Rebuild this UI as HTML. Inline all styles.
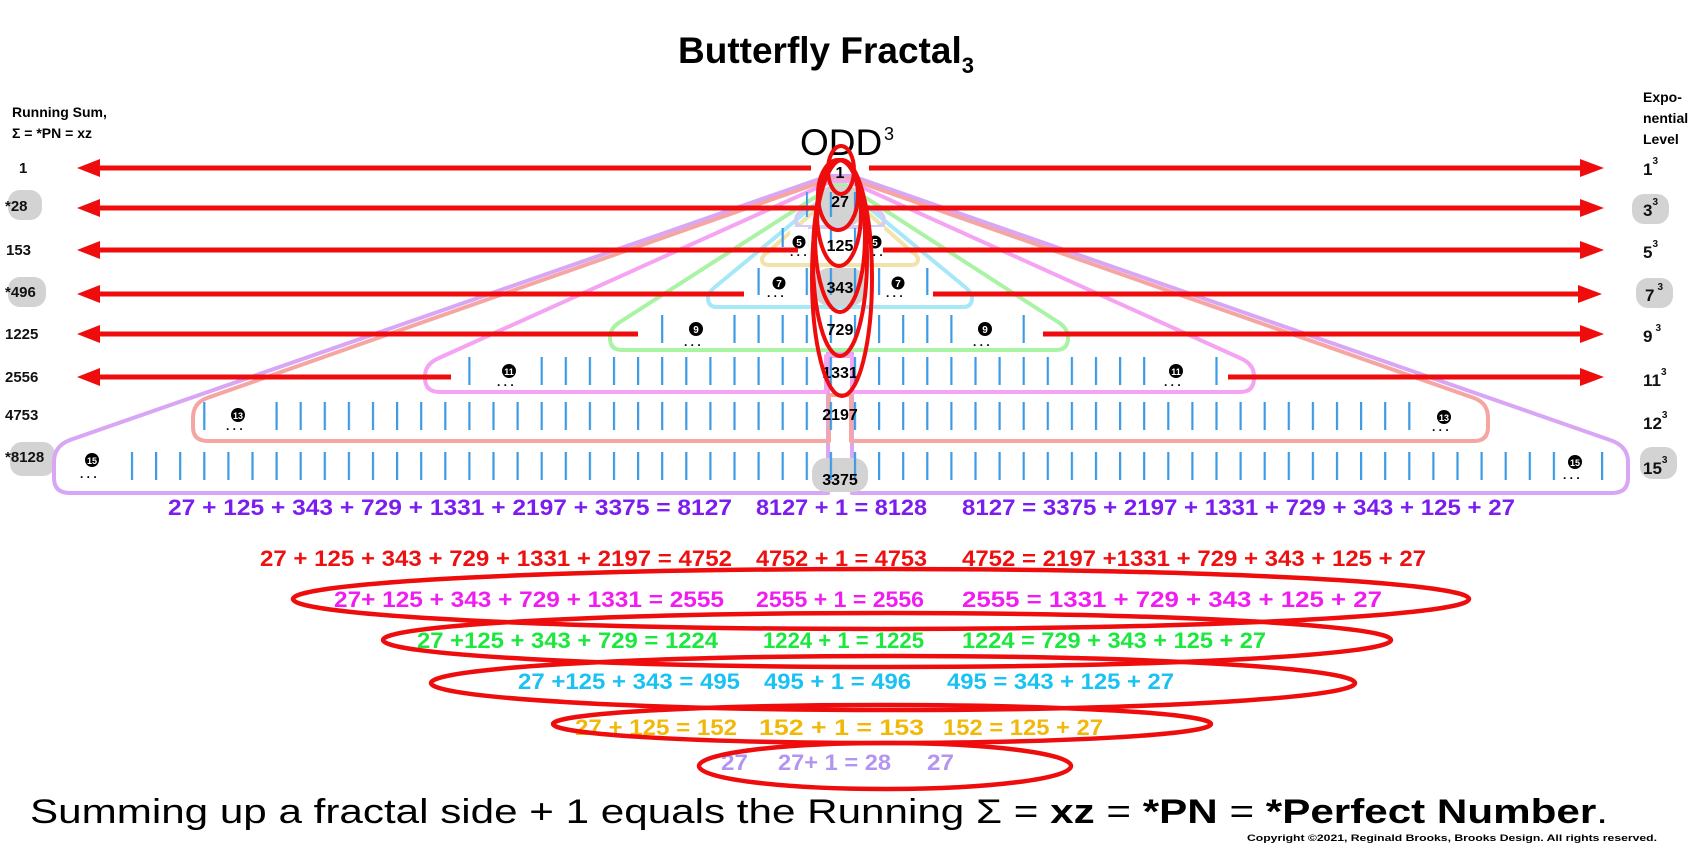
<!DOCTYPE html>
<html><head><meta charset="utf-8"><style>
html,body{margin:0;padding:0;background:#fff}
svg{display:block}
text{font-family:"Liberation Sans",sans-serif}
</style></head><body>
<svg width="1700" height="850" viewBox="0 0 1700 850" xmlns="http://www.w3.org/2000/svg">
<defs>
<pattern id="tk" width="24.1" height="1000" patternUnits="userSpaceOnUse" x="10.4" y="0">
<rect x="0" y="0" width="2.2" height="1000" fill="#3d9be6"/>
</pattern>
</defs>

<text x="678" y="63" font-size="37" font-weight="bold" fill="#000">Butterfly Fractal<tspan font-size="22" dy="10">3</tspan></text>
<text x="800" y="155" font-size="37" fill="#000">ODD</text>
<text x="884" y="140" font-size="18" fill="#000">3</text>

<text x="12" y="117" font-size="14" font-weight="bold">Running Sum,</text>
<text x="12" y="138" font-size="14" font-weight="bold">Σ = *PN = xz</text>
<text x="1643" y="102" font-size="14" font-weight="bold">Expo-</text>
<text x="1643" y="123" font-size="14" font-weight="bold">nential</text>
<text x="1643" y="144" font-size="14" font-weight="bold">Level</text>

<rect x="8" y="190" width="34" height="30" rx="12" fill="#d3d3d3"/>
<rect x="8" y="277" width="38" height="30" rx="12" fill="#d3d3d3"/>
<rect x="10" y="442" width="45" height="34" rx="12" fill="#d3d3d3"/>
<rect x="1632" y="194" width="37" height="30" rx="12" fill="#d3d3d3"/>
<rect x="1636" y="278" width="37" height="30" rx="12" fill="#d3d3d3"/>
<rect x="1640" y="447" width="37" height="32" rx="12" fill="#d3d3d3"/>

<g font-size="15" font-weight="bold" fill="#111">
<text x="19" y="173">1</text>
<text x="5" y="211">*28</text>
<text x="6" y="255">153</text>
<text x="5" y="297">*496</text>
<text x="5" y="339">1225</text>
<text x="5" y="382">2556</text>
<text x="5" y="420">4753</text>
<text x="5" y="462">*8128</text>
</g>
<g font-size="17" font-weight="bold" fill="#111">
<text x="1643" y="175">1<tspan font-size="10" dy="-11">3</tspan></text>
<text x="1643" y="216">3<tspan font-size="10" dy="-11">3</tspan></text>
<text x="1643" y="258">5<tspan font-size="10" dy="-11">3</tspan></text>
<text x="1645" y="301">7<tspan font-size="10" dy="-11" dx="3">3</tspan></text>
<text x="1643" y="342">9<tspan font-size="10" dy="-11" dx="3">3</tspan></text>
<text x="1643" y="386">11<tspan font-size="10" dy="-11">3</tspan></text>
<text x="1643" y="429">12<tspan font-size="10" dy="-11">3</tspan></text>
<text x="1643" y="474">15<tspan font-size="10" dy="-11">3</tspan></text>
</g>

<g fill="none" stroke-width="4" stroke-linejoin="round">
<path stroke="#d8a6f4" d="M828,176 L70,440 Q54,446 54,462 L54,478 Q54,493 70,493 L828,493 L828,353 L852,353 L852,493 L1612,493 Q1628,493 1628,478 L1628,462 Q1628,446 1610,440 L852,176 Z"/>
<path stroke="#f5a6a2" d="M830,179 L207,398 Q193,403 193,418 L193,427 Q193,441 208,441 L829,441 L829,395 L851,395 L851,441 L1474,441 Q1488,441 1488,427 L1488,418 Q1488,403 1474,398 L850,179 Z"/>
<path stroke="#f4a4f2" d="M832,181 L439,358 Q425,364 425,376 L425,378 Q425,392 440,392 L826,392 L826,356 L852,356 L852,392 L1240,392 Q1254,392 1254,378 L1254,376 Q1254,364 1240,358 L848,181 Z"/>
<path stroke="#a8f4a4" d="M834,185 L620,322 Q610,328 610,338 Q610,350 622,350 L1056,350 Q1068,350 1068,338 Q1068,328 1058,322 L846,185 Z"/>
<path stroke="#a6e8f8" d="M835,188 L715,287 Q708,293 708,298 Q708,307 717,307 L963,307 Q972,307 972,298 Q972,293 965,287 L845,188 Z"/>
<path stroke="#f0e4aa" d="M836,192 L768,252 Q762,256 762,259 Q762,265 769,265 L911,265 Q918,265 918,259 Q918,256 912,252 L844,192 Z"/>
<path stroke="#d4ccf4" d="M836,196 L800,212 Q796,216 796,220 Q796,227 803,227 L877,227 Q884,227 884,220 Q884,216 880,212 L844,196 Z"/>
</g>

<rect x="818" y="186" width="44" height="40" rx="14" fill="#d3d3d3"/>
<rect x="815" y="268" width="50" height="38" rx="14" fill="#d3d3d3"/>
<rect x="812" y="458" width="56" height="34" rx="14" fill="#d3d3d3"/>

<g fill="url(#tk)">
<rect x="806" y="192" width="64" height="25"/>
<rect x="780" y="228" width="120" height="19"/>
<rect x="750" y="268" width="180" height="27"/>
<rect x="650" y="315" width="380" height="28"/>
<rect x="460" y="357" width="765" height="28"/>
<rect x="200" y="402" width="1280" height="28"/>
<rect x="64" y="452" width="1550" height="28"/>
</g>
<g fill="#fff">
<rect x="790" y="227" width="18" height="22"/><rect x="866" y="227" width="18" height="22"/>
<rect x="768" y="267" width="22" height="30"/><rect x="887" y="267" width="22" height="30"/>
<rect x="680" y="314" width="34" height="31"/><rect x="968" y="314" width="34" height="31"/>
<rect x="490" y="356" width="34" height="31"/><rect x="1160" y="356" width="34" height="31"/>
<rect x="220" y="401" width="36" height="31"/><rect x="1426" y="401" width="36" height="31"/>
<rect x="74" y="451" width="36" height="31"/><rect x="1557" y="451" width="36" height="31"/>
</g>

<g font-size="10" font-weight="bold" fill="#fff" text-anchor="middle">
<circle cx="799" cy="242" r="6.5" fill="#000"/><text x="799" y="246">5</text>
<circle cx="875" cy="242" r="6.5" fill="#000"/><text x="875" y="246">5</text>
<circle cx="779" cy="283" r="6.5" fill="#000"/><text x="779" y="287">7</text>
<circle cx="898" cy="283" r="6.5" fill="#000"/><text x="898" y="287">7</text>
<circle cx="696" cy="329" r="7" fill="#000"/><text x="696" y="333">9</text>
<circle cx="985" cy="329" r="7" fill="#000"/><text x="985" y="333">9</text>
<circle cx="509" cy="371" r="7" fill="#000"/><text x="509" y="375" font-size="9">11</text>
<circle cx="1176" cy="371" r="7" fill="#000"/><text x="1176" y="375" font-size="9">11</text>
<circle cx="238" cy="415" r="7" fill="#000"/><text x="238" y="419" font-size="9">13</text>
<circle cx="1444" cy="417" r="7" fill="#000"/><text x="1444" y="421" font-size="9">13</text>
<circle cx="92" cy="460" r="7" fill="#000"/><text x="92" y="464" font-size="9">15</text>
<circle cx="1575" cy="462" r="7" fill="#000"/><text x="1575" y="466" font-size="9">15</text>
</g>
<g fill="#000" font-size="12" font-weight="bold">
<text x="790" y="256">. . .</text><text x="866" y="256">. . .</text>
<text x="767" y="297">. . .</text><text x="886" y="297">. . .</text>
<text x="684" y="346">. . .</text><text x="973" y="346">. . .</text>
<text x="497" y="386">. . .</text><text x="1164" y="386">. . .</text>
<text x="226" y="430">. . .</text><text x="1432" y="431">. . .</text>
<text x="80" y="478">. . .</text><text x="1563" y="479">. . .</text>
</g>

<g font-size="16" font-weight="bold" fill="#000" text-anchor="middle">
<text x="840" y="178">1</text>
<text x="840" y="207">27</text>
<text x="840" y="251">125</text>
<text x="840" y="293">343</text>
<text x="840" y="335">729</text>
<text x="840" y="378">1331</text>
<text x="840" y="420">2197</text>
<text x="840" y="485">3375</text>
</g>

<g stroke="#ee0c0c" stroke-width="5">
<line x1="96" y1="168" x2="811" y2="168"/><line x1="869" y1="168" x2="1584" y2="168"/>
<line x1="96" y1="208" x2="820" y2="208"/><line x1="865" y1="208" x2="1584" y2="208"/>
<line x1="96" y1="250" x2="798" y2="250"/><line x1="883" y1="250" x2="1584" y2="250"/>
<line x1="96" y1="294" x2="744" y2="294"/><line x1="933" y1="294" x2="1582" y2="294"/>
<line x1="96" y1="334" x2="638" y2="334"/><line x1="1043" y1="334" x2="1584" y2="334"/>
<line x1="96" y1="377" x2="451" y2="377"/><line x1="1228" y1="377" x2="1584" y2="377"/>
</g>
<g fill="#ee0c0c">
<polygon points="77,168 100,159 100,177"/><polygon points="1604,168 1580,159 1580,177"/>
<polygon points="77,208 100,199 100,217"/><polygon points="1604,208 1580,199 1580,217"/>
<polygon points="77,250 100,241 100,259"/><polygon points="1604,250 1580,241 1580,259"/>
<polygon points="77,294 100,285 100,303"/><polygon points="1602,294 1578,285 1578,303"/>
<polygon points="77,334 100,325 100,343"/><polygon points="1604,334 1580,325 1580,343"/>
<polygon points="77,377 100,368 100,386"/><polygon points="1604,377 1580,368 1580,386"/>
</g>

<g fill="none" stroke="#ee0c0c" stroke-width="4">
<ellipse cx="841" cy="170" rx="13" ry="24"/>
<ellipse cx="838" cy="195" rx="20" ry="35"/>
<ellipse cx="839" cy="213" rx="22" ry="53"/>
<ellipse cx="840" cy="236" rx="25" ry="76"/>
<ellipse cx="840" cy="258" rx="27" ry="98"/>
<ellipse cx="842" cy="278" rx="30" ry="118"/>
</g>

<g font-size="22" font-weight="bold">
<g fill="#7b1cf0">
<text x="168" y="515" textLength="564" lengthAdjust="spacingAndGlyphs">27 + 125 + 343 + 729 + 1331 + 2197 + 3375 = 8127</text>
<text x="756" y="515" textLength="171" lengthAdjust="spacingAndGlyphs">8127 + 1 = 8128</text>
<text x="962" y="515" textLength="553" lengthAdjust="spacingAndGlyphs">8127 = 3375 + 2197 + 1331 + 729 + 343 + 125 + 27</text>
</g>
<g fill="#ee1010">
<text x="260" y="566" textLength="472" lengthAdjust="spacingAndGlyphs">27 + 125 + 343 + 729 + 1331 + 2197 = 4752</text>
<text x="756" y="566" textLength="171" lengthAdjust="spacingAndGlyphs">4752 + 1 = 4753</text>
<text x="962" y="566" textLength="464" lengthAdjust="spacingAndGlyphs">4752 = 2197 +1331 + 729 + 343 + 125 + 27</text>
</g>
<g fill="#f01cf0">
<text x="334" y="607" textLength="390" lengthAdjust="spacingAndGlyphs">27+ 125 + 343 + 729 + 1331  = 2555</text>
<text x="756" y="607" textLength="168" lengthAdjust="spacingAndGlyphs">2555 + 1 = 2556</text>
<text x="962" y="607" textLength="420" lengthAdjust="spacingAndGlyphs">2555 = 1331 + 729 + 343 + 125 + 27</text>
</g>
<g fill="#1ae83c">
<text x="417" y="648" textLength="301" lengthAdjust="spacingAndGlyphs">27 +125 + 343 + 729 = 1224</text>
<text x="763" y="648" textLength="161" lengthAdjust="spacingAndGlyphs">1224 + 1 = 1225</text>
<text x="962" y="648" textLength="304" lengthAdjust="spacingAndGlyphs">1224 = 729 + 343 + 125 + 27</text>
</g>
<g fill="#1ac2f2">
<text x="518" y="689" textLength="222" lengthAdjust="spacingAndGlyphs">27 +125 + 343 = 495</text>
<text x="764" y="689" textLength="147" lengthAdjust="spacingAndGlyphs">495 + 1 = 496</text>
<text x="947" y="689" textLength="227" lengthAdjust="spacingAndGlyphs">495 = 343 + 125 + 27</text>
</g>
<g fill="#f0b90a">
<text x="575" y="735" textLength="162" lengthAdjust="spacingAndGlyphs">27 + 125 = 152</text>
<text x="759" y="735" textLength="165" lengthAdjust="spacingAndGlyphs">152 + 1 = 153</text>
<text x="943" y="735" textLength="160" lengthAdjust="spacingAndGlyphs">152 = 125 + 27</text>
</g>
<g fill="#b394f0">
<text x="721" y="770" textLength="27" lengthAdjust="spacingAndGlyphs">27</text>
<text x="778" y="770" textLength="113" lengthAdjust="spacingAndGlyphs">27+ 1 = 28</text>
<text x="927" y="770" textLength="27" lengthAdjust="spacingAndGlyphs">27</text>
</g>
</g>

<g fill="none" stroke="#ee0c0c" stroke-width="4.5">
<ellipse cx="881" cy="599" rx="588" ry="30"/>
<ellipse cx="887" cy="640" rx="504" ry="27"/>
<ellipse cx="893" cy="683" rx="462" ry="27"/>
<ellipse cx="882" cy="724" rx="329" ry="19"/>
<ellipse cx="885" cy="766" rx="186" ry="23"/>
</g>

<text x="30" y="823" font-size="34" fill="#000" textLength="1578" lengthAdjust="spacingAndGlyphs">Summing up a fractal side + 1 equals the Running Σ = <tspan font-weight="bold">xz</tspan> = <tspan font-weight="bold">*PN</tspan> = <tspan font-weight="bold">*Perfect Number</tspan>.</text>
<text x="1247" y="841" font-size="9.5" font-weight="bold" fill="#000" textLength="410" lengthAdjust="spacingAndGlyphs">Copyright ©2021, Reginald Brooks, Brooks Design. All rights reserved.</text>
</svg>
</body></html>
